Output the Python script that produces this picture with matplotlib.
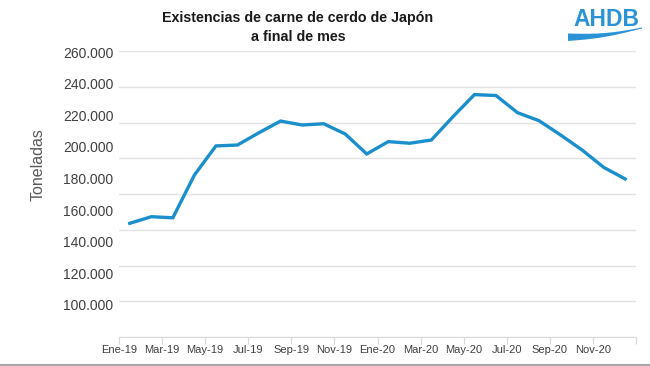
import numpy as np
import matplotlib
matplotlib.use("Agg")
import matplotlib.pyplot as plt
from matplotlib.patches import Polygon

# ---- data ----
months = ["Ene-19", "Feb-19", "Mar-19", "Abr-19", "May-19", "Jun-19", "Jul-19", "Ago-19",
          "Sep-19", "Oct-19", "Nov-19", "Dic-19", "Ene-20", "Feb-20", "Mar-20", "Abr-20",
          "May-20", "Jun-20", "Jul-20", "Ago-20", "Sep-20", "Oct-20", "Nov-20", "Dic-20"]
stocks = [163600, 167300, 166700, 190600, 206900, 207400, 214300, 220800,
          218600, 219300, 213600, 202400, 209300, 208400, 210200, 223200,
          235600, 235100, 225500, 221000, 213000, 204600, 194900, 188400]
x_labels = ["Ene-19", "Mar-19", "May-19", "Jul-19", "Sep-19", "Nov-19",
            "Ene-20", "Mar-20", "May-20", "Jul-20", "Sep-20", "Nov-20", ""]
grid_values = [100000, 120000, 140000, 160000, 180000, 200000, 220000, 240000, 260000]
y_labels = ["260.000", "240.000", "220.000", "200.000", "180.000",
            "160.000", "140.000", "120.000", "100.000"]

title = "Existencias de carne de cerdo de Japón\na final de mes"
ylabel = "Toneladas"

# ---- style ----
line_color = "#1b8fcc"
text_color = "#404040"
grid_color = "#e3e3e3"
plt.rcParams['font.family'] = ['Liberation Sans', 'DejaVu Sans']

W, H = 650, 366
fig = plt.figure(figsize=(W / 100, H / 100), dpi=100)
fig.patch.set_facecolor("white")

ax_left, ax_right, ax_top, ax_bottom = 119, 636, 51, 337
ax = fig.add_axes([ax_left / W, 1 - ax_bottom / H, (ax_right - ax_left) / W, (ax_bottom - ax_top) / H])

xs = np.arange(len(months))
ax.plot(xs, stocks, color=line_color, lw=2.4, solid_joinstyle="miter", zorder=3)

ax.set_xlim(-0.5, len(months) - 0.5)
ax.set_ylim(grid_values[0], grid_values[-1])

# gridlines (minor ticks)
ax.set_yticks(grid_values, minor=True)
ax.grid(True, axis="y", which="minor", color=grid_color, lw=1.0)
ax.tick_params(axis="y", which="minor", length=0)

# y labels as major ticks, laid out as in the reference
n = len(y_labels)
lab_top_px, lab_step_px = 52, 31.6
def px_to_val(py):
    return grid_values[-1] - (py - ax_top) / (ax_bottom - ax_top) * (grid_values[-1] - grid_values[0])
ypos = [px_to_val(lab_top_px + lab_step_px * k) for k in range(n)]
ax.set_yticks(ypos)
ax.set_yticklabels(y_labels)
ax.tick_params(axis="y", which="major", length=0, pad=4, labelsize=10, labelcolor=text_color)

# x ticks at category boundaries every two months
xt = np.arange(-0.5, len(months), 2)
ax.set_xticks(xt)
ax.set_xticklabels(x_labels)
ax.tick_params(axis="x", length=5, width=0.8, color="#d9d9d9", labelsize=8,
               labelcolor=text_color, pad=0.5)

for s in ["top", "right", "left"]:
    ax.spines[s].set_visible(False)
ax.spines["bottom"].set_color("#d9d9d9")
ax.spines["bottom"].set_linewidth(0.8)

fig.text(38 / W, 1 - 165 / H, ylabel, rotation=90, ha="center", va="center",
         fontsize=11.5, color="#595959")

fig.text(298 / W, 1 - 27.5 / H, title, ha="center", va="center", fontsize=10.3,
         fontweight="bold", color="#1a1a1a", linespacing=1.45)

# AHDB logo
logo_color = "#2a93d5"
fig.text(606 / W, 1 - 19 / H, "AHDB", ha="center", va="center", fontsize=16.5,
         fontweight="bold", color=logo_color)
t = np.linspace(0, 1, 80)
wx = 568 + 74 * t
top_y = 33.5 + 2.5 * np.sin(np.pi * t) - 6 * t
bot_y = top_y + 6.5 * (1 - t) ** 1.2 + 1.0
pts = np.concatenate([np.column_stack([wx, top_y]), np.column_stack([wx[::-1], bot_y[::-1]])])
pts_fig = np.column_stack([pts[:, 0] / W, 1 - pts[:, 1] / H])
fig.patches.append(Polygon(pts_fig, closed=True, transform=fig.transFigure,
                           facecolor=logo_color, edgecolor="none"))

# bottom border line
fig.add_artist(plt.Line2D([0, 1], [1 - 364.5 / H, 1 - 364.5 / H], transform=fig.transFigure,
                          color="#a6a6a6", lw=1.5))

fig.savefig("out.png", dpi=100, facecolor="white")
